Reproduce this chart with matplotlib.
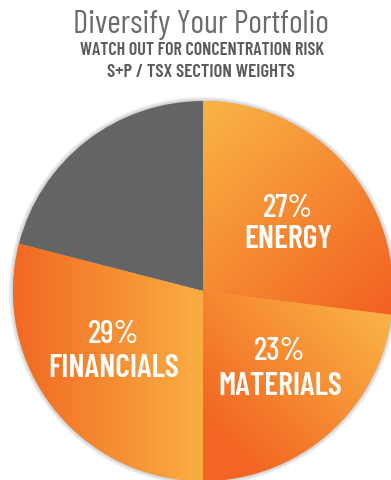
import numpy as np
import matplotlib
matplotlib.use("Agg")
import matplotlib.pyplot as plt
from matplotlib.colors import to_rgb
from matplotlib.patches import Circle

# data
sectors = ["ENERGY", "MATERIALS", "FINANCIALS", "OTHER"]
weights = [27, 23, 29, 21]
shown = [True, True, True, False]

W, H = 391, 481
CX, CY, R = 203, 292, 190

FONT = ["Barlow Condensed", "DejaVu Sans"]
GREY_TXT = "#6a6b6e"


def Y(y):
    # pixel row (from top) -> data y
    return H - y


def gradient(p0, p1, c0, c1):
    xs = np.arange(W) + 0.5
    ys = np.arange(H) + 0.5
    X, YY = np.meshgrid(xs, ys)
    x0, y0 = p0[0], Y(p0[1])
    x1, y1 = p1[0], Y(p1[1])
    dx, dy = x1 - x0, y1 - y0
    t = ((X - x0) * dx + (YY - y0) * dy) / (dx * dx + dy * dy)
    t = np.clip(t, 0, 1)[..., None]
    a = np.array(to_rgb(c0))
    b = np.array(to_rgb(c1))
    return a + t * (b - a)


fig = plt.figure(figsize=(W / 100, H / 100), dpi=100)
ax = fig.add_axes([0, 0, 1, 1])

# soft shadow round the pie
for k in range(5):
    ax.add_patch(Circle((CX, Y(CY)), R + 1 + k * 0.8, color="#777777",
                        alpha=0.07, lw=0, zorder=0))

wedges, _ = ax.pie(weights, startangle=90, counterclock=False,
                   center=(CX, Y(CY)), radius=R,
                   colors=["#f58b2d", "#f58b2d", "#f58b2d", "#636466"],
                   wedgeprops=dict(linewidth=0))

# gradient fills (light -> dark)
grads = [
    ((212, 108), (388, 305), "#f9b244", "#f26322"),
    ((372, 318), (232, 452), "#f9af43", "#f26522"),
    ((200, 330), (18, 330), "#f9ad41", "#f26a24"),
]
for w, (p0, p1, c0, c1) in zip(wedges, grads):
    img = gradient(p0, p1, c0, c1)
    im = ax.imshow(img, extent=(0, W, 0, H), origin="lower",
                   interpolation="bilinear", zorder=2)
    im.set_clip_path(w)

ax.set_xlim(0, W)
ax.set_ylim(0, H)
ax.set_aspect("auto")
ax.axis("off")

# labels: (x centre, baseline of %, baseline of name)
label_pos = [(288, 217, 248), (280, 360, 395), (114, 343, 377)]
lp = iter(label_pos)
for name, val, s in zip(sectors, weights, shown):
    if not s:
        continue
    x, b1, b2 = next(lp)
    ax.text(x, Y(b1), f"{val}%", ha="center", va="baseline", color="white",
            fontsize=23, fontweight="medium", family=FONT, zorder=5)
    ax.text(x, Y(b2), name, ha="center", va="baseline", color="white",
            fontsize=23, fontweight="semibold", family=FONT, zorder=5)

# titles
ax.text(201, Y(33), "Diversify Your Portfolio", ha="center", va="baseline",
        color=GREY_TXT, fontsize=23.5, fontweight="normal", family=FONT)
ax.text(201.5, Y(55), "WATCH OUT FOR CONCENTRATION RISK", ha="center",
        va="baseline", color="#595a5c", fontsize=13, fontweight="semibold", family=FONT)
ax.text(200.5, Y(77), "S+P / TSX SECTION WEIGHTS", ha="center",
        va="baseline", color="#595a5c", fontsize=13.5, fontweight="semibold", family=FONT)

fig.savefig("out.png", dpi=100, facecolor="white")
